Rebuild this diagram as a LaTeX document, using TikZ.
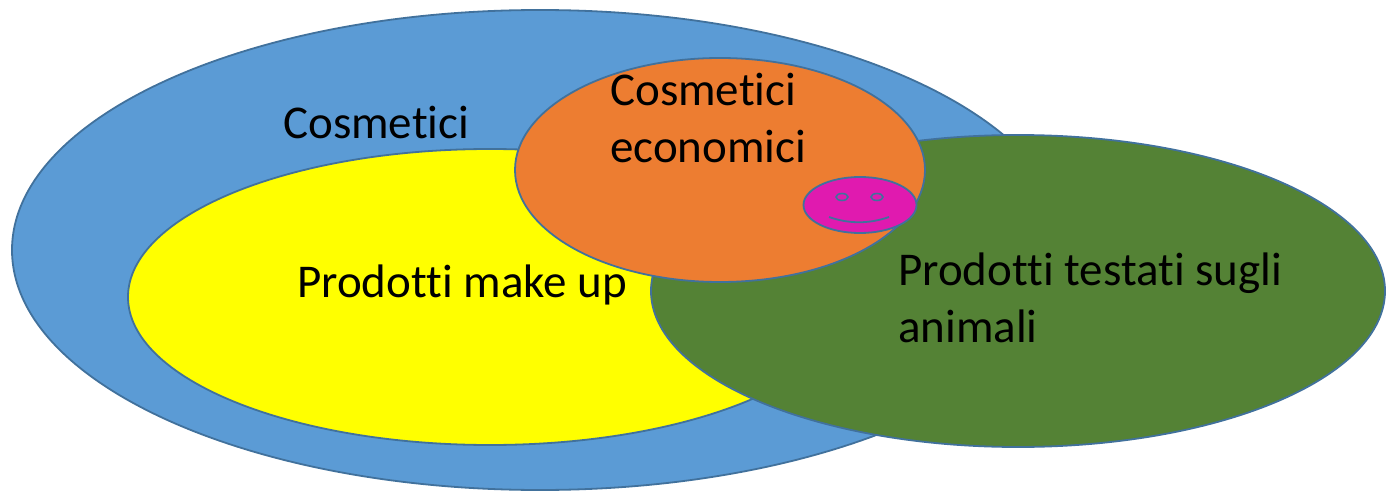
\documentclass[tikz,border=0pt]{standalone}
\usepackage{fontspec}
\setmainfont{Carlito}[Ligatures=NoCommon]
\usepackage{tikz}
\usetikzlibrary{positioning, shapes.geometric}
\definecolor{outl}{HTML}{41719C}
\definecolor{cblue}{HTML}{5B9BD5}
\definecolor{cyellow}{HTML}{FFFF00}
\definecolor{corange}{HTML}{ED7D31}
\definecolor{cgreen}{HTML}{548235}
\definecolor{cmagenta}{HTML}{E01AAF}

\begin{document}
\begin{tikzpicture}[
      x=1pt, y=-1pt,
      setbox/.style={ellipse, draw=outl, line width=1.8pt, inner sep=0pt},
      lbl/.style={anchor=base west, inner sep=0pt, align=left,
        font=\fontsize{47}{57}\selectfont}
    ]
    \useasboundingbox (0,0) rectangle (1387,492);
    % sets
    \node [setbox, fill=cblue, minimum width=1056pt, minimum height=480pt] (cosm) at (540,250) {};
    \node [setbox, fill=cyellow, minimum width=724pt, minimum height=296pt] (makeup) at (490,297) {};
    \node [setbox, fill=cgreen, minimum width=734pt, minimum height=312pt] (test) at (1018,291) {};
    \node [setbox, fill=corange, minimum width=410pt, minimum height=224pt] (econ) at (720,170) {};
    % smiley
    \node [setbox, fill=cmagenta, minimum width=113pt, minimum height=56pt] (face) at (860,205) {};
    \node [setbox, line width=1.6pt, minimum width=12pt, minimum height=7pt] (eyel) at (842,197) {};
    \node [setbox, line width=1.6pt, minimum width=12pt, minimum height=7pt] (eyer) at (877,197) {};
    \coordinate (mouthl) at (829,217);
    \coordinate (mouthr) at (889,217);
    \draw [outl, line width=1.8pt] (mouthl) .. controls (849,224) and (869,224) .. (mouthr);
    % labels
    \node [lbl] (lcosm) at (283,139) {Cosmetici};
    \node [lbl] (lecon) at (610,162) {Cosmetici\\economici};
    \node [lbl] (lmakeup) at (297,297) {Prodotti make up};
    \node [lbl] (ltest) at (898,342) {Prodotti testati sugli\\animali};
\end{tikzpicture}
\end{document}
